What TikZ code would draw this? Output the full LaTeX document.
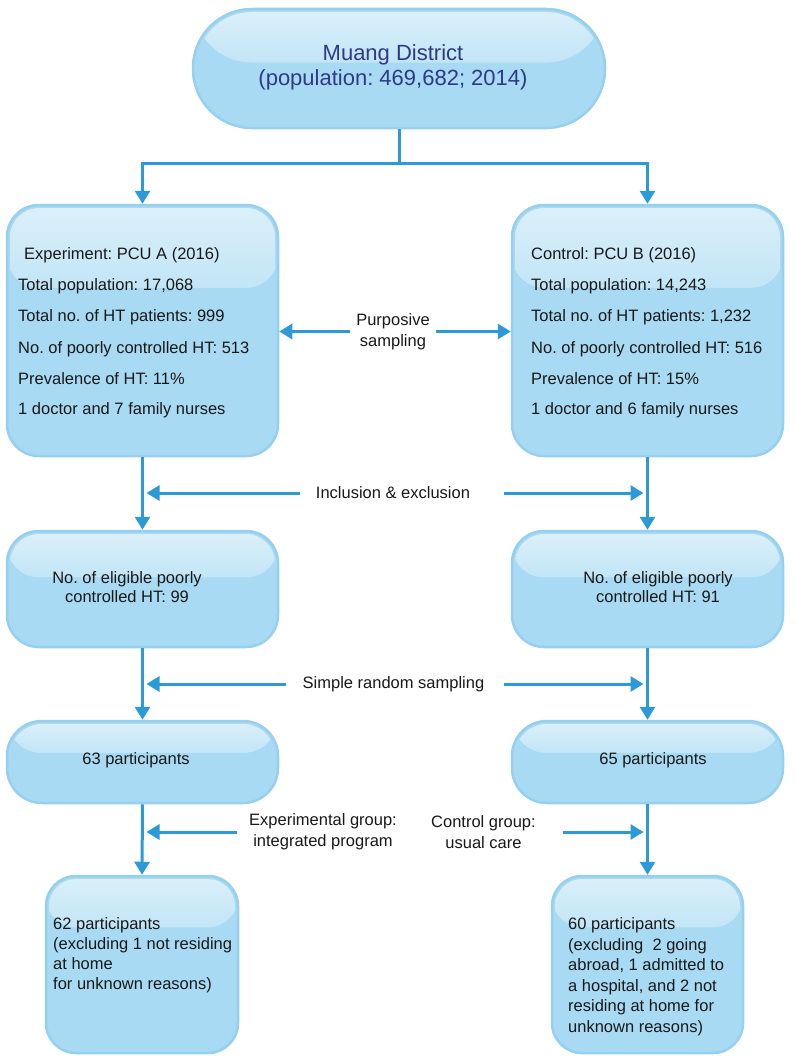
\documentclass[tikz,border=0pt]{standalone}
\usepackage{fontspec}
\setmainfont{Liberation Sans}
\frenchspacing
\usetikzlibrary{arrows.meta,calc}
\definecolor{boxfill}{HTML}{A8DAF3}
\definecolor{boxline}{HTML}{96D0EE}
\definecolor{glossa}{HTML}{DCF0FA}
\definecolor{glossb}{HTML}{C2E5F6}
\definecolor{arrowblue}{HTML}{2C9AD6}
\definecolor{navy}{HTML}{2E3A87}
\begin{document}
\frenchspacing
\begin{tikzpicture}[x=1pt,y=-1pt,
  gbox/.style 2 args={draw=boxline, line width=2.5pt, fill=boxfill, rounded corners=#1, inner sep=0pt,
    path picture={
      \begin{scope}
        \clip[rounded corners=#1-3pt] ([shift={(3pt,-3pt)}]path picture bounding box.north west) rectangle ([shift={(-3pt,3pt)}]path picture bounding box.south east);
        \shade[top color=glossa, bottom color=glossb] (path picture bounding box.north west) rectangle ($(path picture bounding box.north east)!#2!(path picture bounding box.south east)$);
      \end{scope}
    }},
  txt/.style={font=\fontsize{16.5}{20}\selectfont, inner sep=0pt, anchor=base west, text=black!90},
  lbl/.style={font=\fontsize{16.5}{21}\selectfont, inner sep=0pt, text=black!90, fill=white},
  conn/.style={draw=arrowblue, line width=3pt},
  arr/.style={conn, -{Triangle[width=15pt,length=13pt]}},
]
\useasboundingbox[fill=white] (0,0) rectangle (795,1057);

% boxes
\node[gbox={59pt}{0.45}, minimum width=412pt, minimum height=119pt] (top) at (399,68.5) {};
\node[font=\fontsize{22}{25}\selectfont, text=navy, align=center, inner sep=0pt] (toptext) at (393,67) {Muang District\\(population: 469,682; 2014)};

\node[gbox={32pt}{0.33}, minimum width=271pt, minimum height=251pt] (b1L) at (142.5,330.5) {};
\node[gbox={32pt}{0.33}, minimum width=271pt, minimum height=251pt] (b1R) at (647.5,330.5) {};
\node[gbox={32pt}{0.40}, minimum width=271pt, minimum height=116pt] (b2L) at (142.5,589) {};
\node[gbox={32pt}{0.40}, minimum width=271pt, minimum height=116pt] (b2R) at (647.5,589) {};
\node[gbox={35pt}{0.39}, minimum width=271pt, minimum height=82pt] (b3L) at (142.5,762) {};
\node[gbox={35pt}{0.39}, minimum width=271pt, minimum height=82pt] (b3R) at (647.5,762) {};
\node[gbox={30pt}{0.29}, minimum width=192pt, minimum height=177pt] (b4L) at (142,964.5) {};
\node[gbox={30pt}{0.29}, minimum width=191pt, minimum height=177pt] (b4R) at (647.5,964.5) {};

% box 1 texts
\node[txt] (l1a) at (24,259) {Experiment: PCU A (2016)};
\node[txt] (l1b) at (18,290) {Total population: 17,068};
\node[txt] (l1c) at (18,321) {Total no. of HT patients: 999};
\node[txt] (l1d) at (18,353) {No. of poorly controlled HT: 513};
\node[txt] (l1e) at (18,384) {Prevalence of HT: 11\%};
\node[txt] (l1f) at (18,414) {1 doctor and 7 family nurses};

\node[txt] (r1a) at (531,259) {Control: PCU B (2016)};
\node[txt] (r1b) at (531,290) {Total population: 14,243};
\node[txt] (r1c) at (531,321) {Total no. of HT patients: 1,232};
\node[txt] (r1d) at (531,353) {No. of poorly controlled HT: 516};
\node[txt] (r1e) at (531,384) {Prevalence of HT: 15\%};
\node[txt] (r1f) at (531,414) {1 doctor and 6 family nurses};

% box 2 texts
\node[txt, anchor=center, align=center, font=\fontsize{16.5}{19.5}\selectfont] (l2t) at (127,587) {No. of eligible poorly\\controlled HT: 99};
\node[txt, anchor=center, align=center, font=\fontsize{16.5}{19.5}\selectfont] (r2t) at (658,587) {No. of eligible poorly\\controlled HT: 91};

% box 3 texts
\node[txt, anchor=center] (l3t) at (136,760) {63 participants};
\node[txt, anchor=center] (r3t) at (653,760) {65 participants};

% box 4 texts
\node[txt] (l4a) at (53,929) {62 participants};
\node[txt] (l4b) at (53,949) {(excluding 1 not residing};
\node[txt] (l4c) at (53,969) {at home};
\node[txt] (l4d) at (53,989) {for unknown reasons)};

\node[txt] (r4a) at (568,929) {60 participants};
\node[txt] (r4b) at (568,950) {(excluding\ \ 2 going};
\node[txt] (r4c) at (568,970.5) {abroad, 1 admitted to};
\node[txt] (r4d) at (568,991) {a hospital, and 2 not};
\node[txt] (r4e) at (568,1011.5) {residing at home for};
\node[txt] (r4f) at (568,1032) {unknown reasons)};

% top connectors
\coordinate (split) at (399,163);
\draw[arr] (top.south) -- (split) -| (b1L.north);
\draw[arr] (split) -| (b1R.north);

% vertical arrows
\draw[arr] (b1L.south) -- (b2L.north);
\draw[arr] (b1R.south) -- (b2R.north);
\draw[arr] (b2L.south) -- (b3L.north);
\draw[arr] (b2R.south) -- (b3R.north);
\draw[arr] (b3L.south) -- (b4L.north);
\draw[arr] (b3R.south) -- (b4R.north);

% labels
\node[lbl, align=center] (pur) at (393,331.5) {Purposive\\sampling};
\draw[arr] ([xshift=-6pt]pur.west) -- (b1L.east |- pur.west);
\draw[arr] ([xshift=6pt]pur.east) -- (b1R.west |- pur.east);

\node[lbl] (inc) at (393,493) {Inclusion \& exclusion};
\draw[arr] ([xshift=-16pt]inc.west) -- ($(b1L.south |- inc.west)+(4pt,0)$);
\draw[arr] ([xshift=34pt]inc.east) -- ($(b1R.south |- inc.east)+(-4pt,0)$);

\node[lbl] (srs) at (393.5,684) {Simple random sampling};
\draw[arr] ([xshift=-17pt]srs.west) -- ($(b2L.south |- srs.west)+(4pt,0)$);
\draw[arr] ([xshift=20pt]srs.east) -- ($(b2R.south |- srs.east)+(-4pt,0)$);

\node[lbl, align=center] (exp) at (323,832) {Experimental group:\\integrated program};
\node[lbl, align=center] (ctl) at (483.5,832) {Control group:\\usual care};
\draw[arr] ([xshift=-12pt]exp.west) -- ($(b3L.south |- exp.west)+(4pt,0)$);
\draw[arr] ([xshift=27pt]ctl.east) -- ($(b3R.south |- ctl.east)+(-4pt,0)$);
\end{tikzpicture}
\end{document}
